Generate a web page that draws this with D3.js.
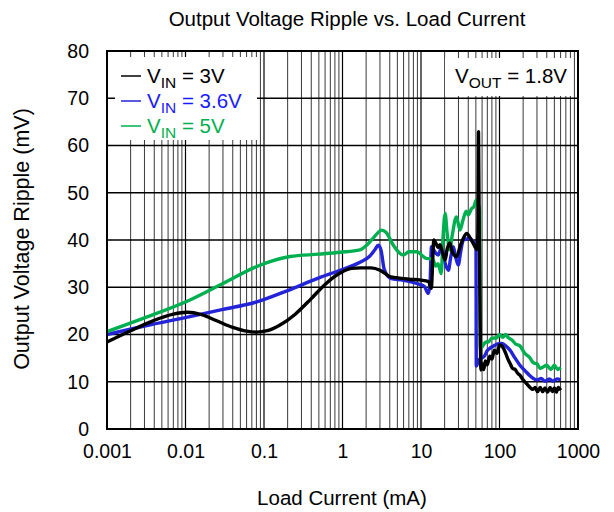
<!DOCTYPE html>
<html><head><meta charset="utf-8">
<script src="https://cdn.jsdelivr.net/npm/d3@7"></script>
<style>body{margin:0;background:#fff}svg{display:block}text{font-family:"Liberation Sans",Arial,sans-serif;fill:#000}</style>
</head><body><svg id="c" width="614" height="512"></svg>
<script>
const xTickLabels = ["0.001","0.01","0.1","1","10","100","1000"];
const yTickLabels = [0,10,20,30,40,50,60,70,80];

const curr3 = [0.001,0.002,0.004,0.007,0.0105,0.016,0.025,0.04,0.06,0.08,0.11,0.16,0.25,0.4,0.6,0.93,1.3,1.7,2.3,3.0,3.5,4.1,5,7,10,12.5,13.5,14.6,15.5,16.5,17.5,19,20.3,21.5,23.3,25,28.5,31.4,35,38.2,42,45.9,49,51.3,53,54,55,56.5,58,60,63,66,70,75,80,86,93,100,107,113,120,128,137,147,158,170,182,196,210,227,245,265,285,305,330,355,380,410,440,470,500,530,560,600];
const ripple3 = [18.4,20.8,23.0,24.3,24.7,24.2,22.9,21.5,20.7,20.5,20.8,22.0,24.3,27.6,30.6,33.0,34.0,34.1,34.1,33.6,32.9,32.2,32.0,31.7,31.5,31.2,29.8,40.0,39.3,38.4,39.0,37.0,35.8,38.0,39.4,37.5,36.5,38.6,40.5,41.4,40.5,39.4,38.5,38.0,41,62.9,45,25,12.5,13.8,12.6,14.4,13.6,15.4,14.8,16.7,16.0,17.8,17.6,17.0,16.0,14.8,13.8,12.8,12.6,11.8,11.4,10.6,10.0,9.4,8.8,8.4,8.8,7.9,8.8,7.9,8.7,7.8,8.8,7.9,8.7,7.8,8.8,8.2];

const curr36 = [0.001,0.003,0.0114,0.03,0.081,0.2,0.5,0.93,1.67,2.2,2.6,2.86,3.1,3.4,4.1,5.8,8.8,11,12.4,13.0,13.6,15,16.6,18.3,20,22.3,24,25.8,27.5,29.8,32,34.6,38,42.1,45,48.7,50.2,50.6,53,56,59.3,64,70,75.7,85,95,106.7,120,136,155,182,215,240,270,300,340,380,430,480,540,600];
const ripple36 = [20.0,21.8,23.8,25.3,26.9,29.3,32.0,33.6,35.3,36.5,38.0,38.9,37.8,33.8,31.9,31.5,30.8,30.2,28.7,30.5,38.6,37.5,36.8,38.6,35.5,33.6,36.5,38.6,36.5,34.7,37.5,40.0,40.2,40.4,39.8,39.3,38.5,13.3,14.0,14.8,15.0,15.4,16.6,17.1,17.6,18.0,18.1,17.6,16.7,15.2,13.5,12.2,11.4,10.7,10.4,10.7,10.1,10.6,10.1,10.6,10.4];

const curr5 = [0.001,0.003,0.0114,0.03,0.081,0.215,0.5,0.93,1.67,2.0,2.46,3.16,3.6,4.45,5.93,7,8.8,11.7,14,15.5,16.5,18.1,19,20.3,21.5,23.3,25,28.3,31.4,34,37.7,40,44.3,47,50.7,53.5,55.8,56.5,57,60,62.3,67,72,80,92.2,100,110,120,130,145,160,182,210,240,270,300,330,358,400,450,500,550,600];
const ripple5 = [20.6,23.5,27.3,30.8,34.4,36.5,37.0,37.4,37.9,38.8,40.4,42.1,41.6,38.9,36.8,37.5,37.5,36.1,36.0,34.5,35,32.9,40,45.6,41.5,37.9,41,44.9,42.1,44,46.1,45.3,46.7,47,48.5,47.5,46.3,30,17.0,17.4,17.8,18.4,18.4,19.2,19.3,20.0,19.4,20.0,19.3,18.8,18.0,17.6,16.0,15.2,14.0,13.8,12.8,13.1,13.5,12.6,13.5,12.6,13.0];

const seriesNames = ["3V","3.6V","5V"];
const seriesColors = ["#000000","#2323d8","#00b050"];
const legendTextColors = ["#000000","#1a1aff","#00b050"];

const svg = d3.select("#c");
const L=107,R=578,T=51,B=429;
const x = d3.scaleLog().domain([0.001,1000]).range([L,R]);
const y = d3.scaleLinear().domain([0,80]).range([B,T]);

// grid
const minor=[];
for(let e=-3;e<3;e++){for(let m=2;m<=9;m++)minor.push(m*Math.pow(10,e));}
svg.append("g").selectAll("line").data(minor).join("line")
 .attr("x1",d=>x(d)).attr("x2",d=>x(d)).attr("y1",T).attr("y2",B)
 .attr("stroke","#3a3a3a").attr("stroke-width",1);
svg.append("g").selectAll("line").data(xTickLabels.map(Number)).join("line")
 .attr("x1",d=>x(d)).attr("x2",d=>x(d)).attr("y1",T).attr("y2",B)
 .attr("stroke","#000").attr("stroke-width",1.2);
svg.append("g").selectAll("line").data(yTickLabels).join("line")
 .attr("x1",L).attr("x2",R).attr("y1",d=>y(d)).attr("y2",d=>y(d))
 .attr("stroke","#000").attr("stroke-width",1.3);

// boxes covering grid
svg.append("rect").attr("x",115).attr("y",57).attr("width",142).attr("height",83).attr("fill","#fff");
svg.append("rect").attr("x",445).attr("y",58).attr("width",128).attr("height",38).attr("fill","#fff");

// axes labels
const xa = svg.append("g").attr("transform",`translate(0,${B})`)
 .call(d3.axisBottom(x).tickValues(xTickLabels.map(Number)).tickFormat((d,i)=>xTickLabels[i]).tickSize(0).tickPadding(15));
xa.select(".domain").remove();
xa.selectAll("text").attr("font-size","19.5px").attr("font-family","Liberation Sans, Arial, sans-serif").attr("fill","#000");
const ya = svg.append("g").attr("transform",`translate(${L},0)`)
 .call(d3.axisLeft(y).tickValues(yTickLabels).tickSize(0).tickPadding(18));
ya.select(".domain").remove();
ya.selectAll("text").attr("font-size","19.5px").attr("font-family","Liberation Sans, Arial, sans-serif").attr("fill","#000");

// lines
const line = d3.line().x(d=>x(d[0])).y(d=>y(d[1])).curve(d3.curveMonotoneX);
const data = [d3.zip(curr3,ripple3), d3.zip(curr36,ripple36), d3.zip(curr5,ripple5)];
const order=[1,2,0];
order.forEach(i=>{
 svg.append("path").datum(data[i]).attr("d",line).attr("fill","none")
  .attr("stroke",seriesColors[i]).attr("stroke-width",3.4).attr("stroke-linejoin","round");
});

// frame
svg.append("rect").attr("x",L).attr("y",T).attr("width",R-L).attr("height",B-T)
 .attr("fill","none").attr("stroke","#000").attr("stroke-width",2);

// legend
const legY=[76,101,126];
seriesNames.forEach((n,i)=>{
 svg.append("line").attr("x1",121).attr("x2",141).attr("y1",legY[i]).attr("y2",legY[i])
  .attr("stroke",seriesColors[i]).attr("stroke-width",1.5);
 const t=svg.append("text").attr("x",147).attr("y",legY[i]+7).attr("font-size","20.5px").style("fill",legendTextColors[i]);
 t.append("tspan").text("V");
 t.append("tspan").attr("dy",5).attr("font-size","15.5px").text("IN");
 t.append("tspan").attr("dy",-5).text(" = "+n);
});
const vt=svg.append("text").attr("x",567).attr("y",83).attr("text-anchor","end").attr("font-size","20.5px");
vt.append("tspan").text("V");
vt.append("tspan").attr("dy",5).attr("font-size","15.5px").text("OUT");
vt.append("tspan").attr("dy",-5).text(" = 1.8V");

// titles
svg.append("text").attr("x",347).attr("y",26).attr("text-anchor","middle").attr("font-size","20.5px").text("Output Voltage Ripple vs. Load Current");
svg.append("text").attr("x",342).attr("y",505).attr("text-anchor","middle").attr("font-size","20.5px").text("Load Current (mA)");
svg.append("text").attr("transform","translate(29,239) rotate(-90)").attr("text-anchor","middle").attr("font-size","21.5px").text("Output Voltage Ripple (mV)");
</script></body></html>
